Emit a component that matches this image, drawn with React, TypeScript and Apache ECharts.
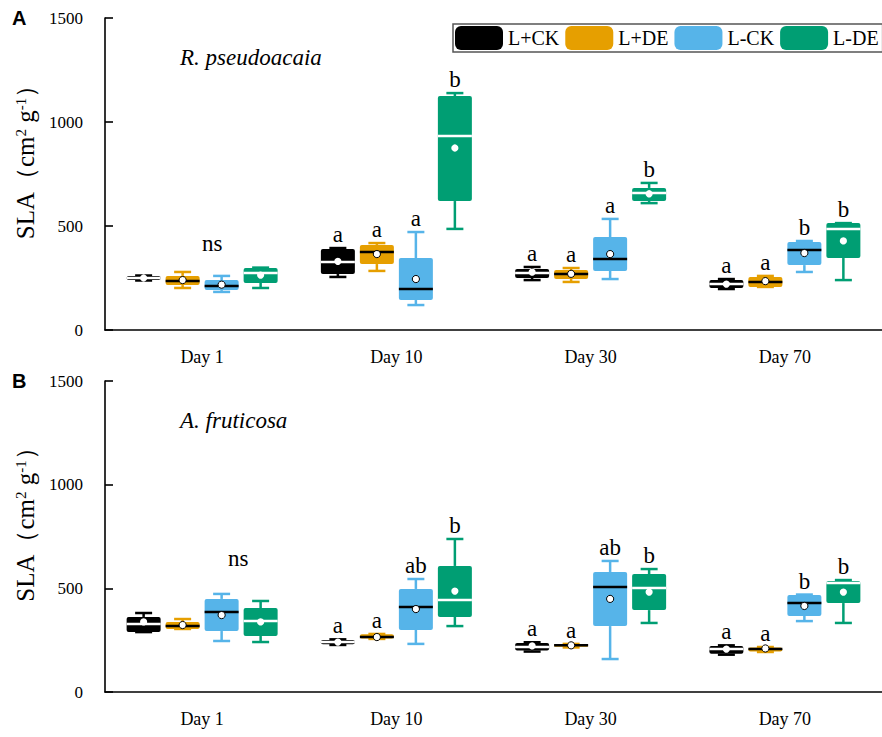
import React, { useEffect, useRef } from "react";
import * as echarts from "echarts";

const days = ["Day 1", "Day 10", "Day 30", "Day 70"];
const groups = ["L+CK", "L+DE", "L-CK", "L-DE"];
const groupColors = ["#000000", "#E69F00", "#56B4E9", "#009E73"];
const medianColors = ["#ffffff", "#000000", "#000000", "#ffffff"];

// each row: [min, q1, median, q3, max, mean] for Day 1, 10, 30, 70
// Panel A: R. pseudoacaia
const aLpCK = [
  [238, 240, 250, 260, 262, 250],
  [255, 269, 327, 389, 394, 330],
  [240, 250, 274, 293, 303, 278],
  [197, 202, 221, 240, 245, 221],
];
const aLpDE = [
  [202, 216, 236, 260, 279, 240],
  [284, 317, 375, 409, 418, 365],
  [231, 245, 269, 288, 298, 270],
  [207, 207, 231, 255, 260, 235],
];
const aLmCK = [
  [183, 192, 212, 240, 260, 218],
  [120, 144, 197, 346, 471, 245],
  [245, 284, 341, 447, 534, 365],
  [279, 312, 385, 423, 428, 370],
];
const aLmDE = [
  [202, 226, 274, 298, 300, 264],
  [486, 620, 933, 1125, 1139, 875],
  [610, 620, 659, 683, 707, 655],
  [240, 346, 486, 514, 514, 428],
];
// Panel B: A. fruticosa
const bLpCK = [
  [289, 289, 328, 362, 381, 338],
  [227, 230, 241, 251, 254, 241],
  [195, 200, 217, 236, 240, 222],
  [180, 185, 207, 222, 225, 207],
];
const bLpDE = [
  [304, 304, 318, 338, 352, 323],
  [256, 258, 265, 278, 280, 265],
  [215, 218, 225, 230, 232, 225],
  [193, 195, 207, 215, 217, 210],
];
const bLmCK = [
  [246, 294, 386, 449, 473, 371],
  [232, 299, 410, 497, 545, 400],
  [159, 318, 506, 579, 632, 449],
  [342, 367, 429, 468, 470, 415],
];
const bLmDE = [
  [241, 270, 342, 405, 439, 338],
  [318, 362, 444, 608, 738, 487],
  [333, 395, 502, 569, 593, 482],
  [333, 429, 526, 535, 540, 482],
];

// significance letters per day, per group
const lettersA = [
  ["", "", "", ""],
  ["a", "a", "a", "b"],
  ["a", "a", "a", "b"],
  ["a", "a", "b", "b"],
];
const lettersB = [
  ["", "", "", ""],
  ["a", "a", "ab", "b"],
  ["a", "a", "ab", "b"],
  ["a", "a", "b", "b"],
];
const nsA = [[0, 418]];
const nsB = [[0, 646]];

const yMin = 0;
const yMax = 1500;
const yInterval = 500;

const SERIF = "Liberation Serif";
const SANS = "Liberation Sans";

const BOX_W = 34;
const CAP_W = 17;
const SPACING = 39;

function makeBoxRender(gi: number, letters: string[][]) {
  return (params: any, api: any) => {
    const cat = api.value(0);
    const off = (gi - 1.5) * SPACING;
    const c = (v: number) => api.coord([cat, v]);
    const x = c(api.value(1))[0] + off;
    const yMn = c(api.value(1))[1];
    const yQ1 = c(api.value(2))[1];
    const yMd = c(api.value(3))[1];
    const yQ3 = c(api.value(4))[1];
    const yMx = c(api.value(5))[1];
    const yMean = c(api.value(6))[1];
    const color = groupColors[gi];
    const mc = medianColors[gi];
    const lw = 2.5;
    const children: any[] = [
      { type: "line", shape: { x1: x, y1: yQ3, x2: x, y2: yMx }, style: { stroke: color, lineWidth: lw } },
      { type: "line", shape: { x1: x, y1: yQ1, x2: x, y2: yMn }, style: { stroke: color, lineWidth: lw } },
      { type: "line", shape: { x1: x - CAP_W / 2, y1: yMx, x2: x + CAP_W / 2, y2: yMx }, style: { stroke: color, lineWidth: lw } },
      { type: "line", shape: { x1: x - CAP_W / 2, y1: yMn, x2: x + CAP_W / 2, y2: yMn }, style: { stroke: color, lineWidth: lw } },
      {
        type: "rect",
        shape: { x: x - BOX_W / 2, y: yQ3, width: BOX_W, height: Math.max(yQ1 - yQ3, 2), r: 2 },
        style: { fill: color },
      },
      { type: "line", shape: { x1: x - BOX_W / 2, y1: yMd, x2: x + BOX_W / 2, y2: yMd }, style: { stroke: mc, lineWidth: 2.5 } },
      {
        type: "circle",
        shape: { cx: x, cy: yMean, r: 3.6 },
        style: { fill: "#ffffff", stroke: mc === "#000000" ? "#000000" : null, lineWidth: 1 },
      },
    ];
    const letter = letters[params.dataIndex][gi];
    if (letter) {
      children.push({
        type: "text",
        x: x,
        y: yMx - 2,
        style: {
          text: letter,
          fill: "#000",
          font: "23px " + SERIF,
          align: "center",
          verticalAlign: "bottom",
        },
      });
    }
    return { type: "group", children };
  };
}

function makeNsRender(dx: number) {
  return (params: any, api: any) => {
    const p = api.coord([api.value(0), api.value(1)]);
    return {
      type: "text",
      x: p[0] + dx,
      y: p[1],
      style: {
        text: "ns",
        fill: "#000",
        font: "23px " + SERIF,
        align: "center",
        verticalAlign: "middle",
      },
    };
  };
}

const panelA = [aLpCK, aLpDE, aLmCK, aLmDE];
const panelB = [bLpCK, bLpDE, bLmCK, bLmDE];

function toData(rows: number[][]) {
  return rows.map((r, i) => [i, ...r]);
}

export default function App() {
  const ref = useRef<HTMLDivElement>(null);
  useEffect(() => {
    if (!ref.current) return;
    const chart = echarts.init(ref.current, null, { renderer: "svg" });

    const grids = [
      { left: 105, top: 18, width: 784, height: 312 },
      { left: 105, top: 381, width: 784, height: 311 },
    ];
    const xAxes = grids.map((_, gi) => ({
      type: "category",
      gridIndex: gi,
      data: days,
      axisLine: { lineStyle: { color: "#000", width: 1.6 } },
      axisTick: { alignWithLabel: true, length: 9, lineStyle: { color: "#000", width: 1.6 } },
      axisLabel: { color: "#000", fontSize: 18, fontFamily: SERIF, margin: 18 },
      splitLine: { show: false },
    }));
    const yAxes = grids.map((_, gi) => ({
      type: "value",
      gridIndex: gi,
      min: yMin,
      max: yMax,
      interval: yInterval,
      name: "{t|SLA（cm}{s|2}{t| g}{s|-1}{t|）}",
      nameLocation: "middle",
      nameGap: 60,
      nameRotate: 90,
      nameTextStyle: {
        color: "#000",
        fontFamily: SERIF,
        fontSize: 25,
        padding: [0, 0, 0, 36],
        rich: {
          t: { fontSize: 25, fontFamily: SERIF, color: "#000" },
          s: { fontSize: 15, fontFamily: SERIF, color: "#000", verticalAlign: "top" },
        },
      },
      axisLine: { show: true, lineStyle: { color: "#000", width: 1.6 } },
      axisTick: { show: true, inside: true, length: 8, lineStyle: { color: "#000", width: 1.6 } },
      axisLabel: {
        color: "#000",
        fontSize: 17,
        fontFamily: SERIF,
        margin: 22,
        formatter: (v: number) => String(v),
      },
      splitLine: { show: false },
    }));

    const series: any[] = [];
    [panelA, panelB].forEach((panel, pi) => {
      panel.forEach((rows, gi) => {
        series.push({
          type: "custom",
          name: groups[gi],
          xAxisIndex: pi,
          yAxisIndex: pi,
          itemStyle: { color: groupColors[gi] },
          renderItem: makeBoxRender(gi, pi === 0 ? lettersA : lettersB),
          encode: { x: 0, y: [1, 2, 3, 4, 5, 6] },
          data: toData(rows),
          clip: false,
        });
      });
    });
    series.push({
      type: "custom",
      xAxisIndex: 0,
      yAxisIndex: 0,
      renderItem: makeNsRender(10),
      encode: { x: 0, y: 1 },
      data: nsA,
    });
    series.push({
      type: "custom",
      xAxisIndex: 1,
      yAxisIndex: 1,
      renderItem: makeNsRender(36),
      encode: { x: 0, y: 1 },
      data: nsB,
    });

    chart.setOption({
      animation: false,
      backgroundColor: "#ffffff",
      textStyle: { fontFamily: SERIF },
      grid: grids,
      xAxis: xAxes,
      yAxis: yAxes,
      legend: {
        data: groups,
        left: 453,
        top: 24,
        width: 429,
        orient: "horizontal",
        itemWidth: 48,
        itemHeight: 24,
        itemGap: 6,
        icon: "roundRect",
        padding: [2, 4, 2, 2],
        borderColor: "#555",
        borderWidth: 1.5,
        borderRadius: 0,
        selectedMode: false,
        textStyle: { color: "#000", fontSize: 20, fontFamily: SERIF },
      },
      graphic: [
        {
          type: "text",
          left: 12,
          top: 8,
          style: { text: "A", font: "bold 20px " + SANS, fill: "#000" },
        },
        {
          type: "text",
          left: 12,
          top: 371,
          style: { text: "B", font: "bold 20px " + SANS, fill: "#000" },
        },
        {
          type: "text",
          left: 180,
          top: 46,
          style: { text: "R. pseudoacaia", font: "italic 23px " + SERIF, fill: "#000" },
        },
        {
          type: "text",
          left: 180,
          top: 409,
          style: { text: "A. fruticosa", font: "italic 23px " + SERIF, fill: "#000" },
        },
      ],
      series,
    });
    return () => chart.dispose();
  }, []);
  return (
    <div
      ref={ref}
      style={{ position: "absolute", left: 0, top: 0, width: 882, height: 737, overflow: "hidden" }}
    />
  );
}
